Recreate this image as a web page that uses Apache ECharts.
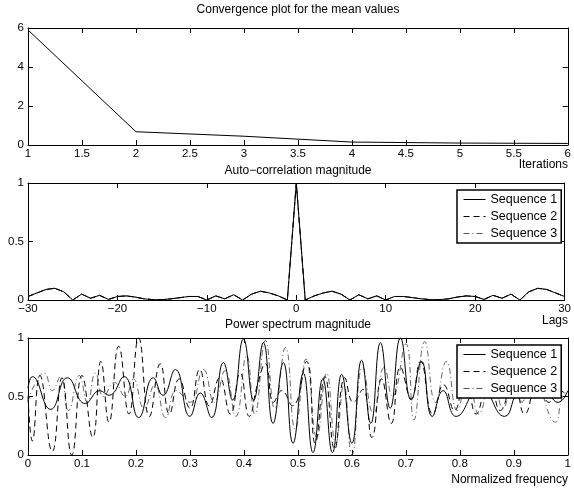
<!DOCTYPE html>
<html>
<head>
<meta charset="utf-8">
<script src="https://cdn.jsdelivr.net/npm/echarts@6/dist/echarts.min.js"></script>
<style>html,body{margin:0;padding:0;background:#fff}#c{width:574px;height:492px}</style>
</head>
<body>
<div id="c"></div>
<script>
// ---------- DATA ----------
const iterations = [1, 2, 3, 4, 5, 6];
const meanValues = [5.9, 0.68, 0.45, 0.15, 0.1, 0.08];

const lags = [-30,-29,-28,-27,-26,-25,-24,-23,-22,-21,-20,-19,-18,-17,-16,-15,-14,-13,-12,-11,-10,-9,-8,-7,-6,-5,-4,-3,-2,-1,0,1,2,3,4,5,6,7,8,9,10,11,12,13,14,15,16,17,18,19,20,21,22,23,24,25,26,27,28,29,30];
const acf1 = [0.03,0.06,0.09,0.1,0.07,0,0.05,0.015,0.04,0.005,0.03,0.035,0.025,0.01,0.003,0.003,0.01,0.02,0.03,0.03,0,0.035,0.01,0.045,0,0.05,0.075,0.06,0.035,0,1,0,0.035,0.06,0.075,0.05,0,0.045,0.01,0.035,0,0.03,0.03,0.02,0.01,0.003,0.003,0.01,0.025,0.035,0.03,0.005,0.04,0.015,0.05,0,0.07,0.1,0.09,0.06,0.03];
const acf2 = [0.03,0.06,0.09,0.1,0.07,0,0.05,0.015,0.04,0.005,0.03,0.035,0.025,0.01,0.003,0.003,0.01,0.02,0.03,0.03,0,0.035,0.01,0.045,0,0.05,0.075,0.06,0.035,0,1,0,0.035,0.06,0.075,0.05,0,0.045,0.01,0.035,0,0.03,0.03,0.02,0.01,0.003,0.003,0.01,0.025,0.035,0.03,0.005,0.04,0.015,0.05,0,0.07,0.1,0.09,0.06,0.03];
const acf3 = [0.03,0.06,0.09,0.1,0.07,0,0.05,0.015,0.04,0.005,0.03,0.035,0.025,0.01,0.003,0.003,0.01,0.02,0.03,0.03,0,0.035,0.01,0.045,0,0.05,0.075,0.06,0.035,0,1,0,0.035,0.06,0.075,0.05,0,0.045,0.01,0.035,0,0.03,0.03,0.02,0.01,0.003,0.003,0.01,0.025,0.035,0.03,0.005,0.04,0.015,0.05,0,0.07,0.1,0.09,0.06,0.03];

const freq1 = [0,0.008,0.042,0.073,0.106,0.133,0.15,0.178,0.205,0.232,0.25,0.273,0.3,0.319,0.34,0.362,0.379,0.399,0.418,0.436,0.454,0.473,0.491,0.51,0.528,0.546,0.564,0.581,0.6,0.618,0.635,0.653,0.671,0.69,0.71,0.729,0.749,0.769,0.793,0.838,0.883,0.911,0.933,0.954,0.982,1.0];
const power1 = [0.57,0.67,0.39,0.66,0.44,0.55,0.51,0.67,0.32,0.66,0.51,0.73,0.33,0.53,0.32,0.79,0.47,0.99,0.47,0.96,0.27,0.79,0.1,0.7,0.02,0.65,0.02,0.69,0.1,0.81,0.27,0.96,0.4,1.0,0.47,0.8,0.33,0.55,0.33,0.58,0.33,0.53,0.49,0.56,0.45,0.55];

const freq2 = [0,0.008,0.022,0.045,0.063,0.081,0.1,0.12,0.135,0.15,0.168,0.187,0.205,0.225,0.245,0.262,0.28,0.3,0.318,0.336,0.355,0.375,0.393,0.41,0.425,0.44,0.455,0.47,0.49,0.516,0.532,0.55,0.568,0.587,0.603,0.62,0.637,0.655,0.673,0.69,0.71,0.727,0.75,0.77,0.79,0.81,0.83,0.855,0.875,0.9,0.92,0.945,0.965,0.985,1.0];
const power2 = [0.5,0.12,0.68,0.03,0.66,0.0,0.68,0.15,0.8,0.28,0.93,0.35,1.0,0.33,0.78,0.35,0.65,0.4,0.73,0.42,0.66,0.35,0.7,0.33,0.6,0.78,0.45,0.55,0.42,0.8,0.1,0.67,0.05,0.66,0.45,0.56,0.15,0.65,0.27,0.75,0.48,0.8,0.35,0.6,0.38,0.7,0.35,0.72,0.38,0.62,0.35,0.65,0.45,0.55,0.5];

const freq3 = [0,0.012,0.03,0.045,0.06,0.075,0.095,0.11,0.125,0.14,0.16,0.18,0.195,0.215,0.235,0.255,0.275,0.3,0.325,0.345,0.365,0.385,0.405,0.42,0.44,0.457,0.477,0.495,0.515,0.535,0.553,0.57,0.585,0.6,0.62,0.64,0.66,0.675,0.7,0.715,0.735,0.755,0.775,0.795,0.815,0.835,0.86,0.88,0.9,0.915,0.935,0.955,0.977,0.99,1.0];
const power3 = [0.45,0.6,0.7,0.55,0.67,0.38,0.68,0.45,0.7,0.5,0.62,0.5,0.65,0.4,0.6,0.32,0.55,0.45,0.73,0.45,0.72,0.33,0.85,0.35,0.98,0.4,0.92,0.22,0.82,0.15,0.7,0.1,0.6,0.0,0.75,0.35,0.75,0.5,0.95,0.3,0.97,0.45,0.8,0.38,0.68,0.35,0.7,0.4,0.65,0.45,0.95,0.5,0.28,0.5,0.55];

const seqNames = ['Sequence 1', 'Sequence 2', 'Sequence 3'];

// ---------- LAYOUT ----------
const FONT = 'Liberation Sans, Arial, Helvetica, sans-serif';
const grids = [
  {left: 28, right: 6, top: 28, height: 117},
  {left: 28, right: 6, top: 183, height: 117},
  {left: 28, right: 6, top: 338, height: 117}
];
function axisBase() {
  return {
    axisLine: {show: true, onZero: false, lineStyle: {color: '#000', width: 1}},
    axisTick: {show: true, inside: true, length: 5, lineStyle: {color: '#000', width: 1}},
    splitLine: {show: false}
  };
}
function xAxes(gi, min, max, interval, fmt) {
  return [
    Object.assign(axisBase(), {
      type: 'value', gridIndex: gi, position: 'bottom', min, max, interval,
      axisLabel: {show: true, color: '#000', fontSize: 11.5, fontFamily: FONT, margin: 3,
        showMinLabel: true, showMaxLabel: true, formatter: fmt}
    }),
    Object.assign(axisBase(), {
      type: 'value', gridIndex: gi, position: 'top', min, max, interval,
      axisLabel: {show: false}
    })
  ];
}
function yAxes(gi, min, max, interval) {
  return [
    Object.assign(axisBase(), {
      type: 'value', gridIndex: gi, position: 'left', min, max, interval,
      axisLabel: {show: true, color: '#000', fontSize: 11.5, fontFamily: FONT, margin: 4,
        showMinLabel: true, showMaxLabel: true}
    }),
    Object.assign(axisBase(), {
      type: 'value', gridIndex: gi, position: 'right', min, max, interval,
      axisLabel: {show: false}
    })
  ];
}
const minusFmt = v => String(v).replace('-', '\u2212');

const xAxis = [].concat(
  xAxes(0, 1, 6, 0.5, v => String(v)),
  xAxes(1, -30, 30, 10, minusFmt),
  xAxes(2, 0, 1, 0.1, v => String(Math.round(v * 10) / 10))
);
const yAxis = [].concat(
  yAxes(0, 0, 6, 2),
  yAxes(1, 0, 1, 0.5),
  yAxes(2, 0, 1, 0.5)
);

function pairs(xs, ys) { return xs.map((x, i) => [x, ys[i]]); }

const styles = [
  {color: '#000', width: 1, type: 'solid'},
  {color: '#000', width: 1, type: [6, 4]},
  {color: '#555', width: 0.9, type: [6, 3, 1, 3]}
];

const series = [];
series.push({
  name: 'Mean', type: 'line', xAxisIndex: 0, yAxisIndex: 0,
  data: pairs(iterations, meanValues), showSymbol: false, symbol: 'none',
  lineStyle: {color: '#000', width: 1}, silent: true
});
const acfs = [acf1, acf2, acf3];
for (let i = 2; i >= 0; i--) {
  series.push({
    name: seqNames[i], type: 'line', xAxisIndex: 2, yAxisIndex: 2,
    data: pairs(lags, acfs[i]), symbol: 'none', showSymbol: false,
    lineStyle: styles[i], itemStyle: {color: styles[i].color}, z: 3 + (2 - i)
  });
}
const fs = [freq1, freq2, freq3], ps = [power1, power2, power3];
for (let i = 2; i >= 0; i--) {
  series.push({
    name: seqNames[i], type: 'line', xAxisIndex: 4, yAxisIndex: 4,
    data: pairs(fs[i], ps[i]), symbol: 'none', showSymbol: false, smooth: 0.5,
    lineStyle: styles[i], itemStyle: {color: styles[i].color}, z: 3 + (2 - i)
  });
}

function legend(top) {
  return {
    left: 457, top, orient: 'vertical', data: seqNames,
    itemWidth: 22, itemHeight: 11, itemGap: 4,
    padding: [3, 4, 3, 6], backgroundColor: '#fff',
    borderColor: '#000', borderWidth: 1.5, borderRadius: 0,
    itemStyle: {color: 'rgba(0,0,0,0)', borderWidth: 0, opacity: 0},
    lineStyle: {width: 1},
    textStyle: {color: '#000', fontSize: 12.5, fontFamily: FONT},
    selectedMode: false, z: 10
  };
}

const tStyle = {color: '#000', fontSize: 12, fontWeight: 'normal', fontFamily: FONT};
function ttl(text, left, top, align) {
  return {text, left, top, textAlign: align, padding: 0, textStyle: tStyle};
}

const option = {
  animation: false,
  backgroundColor: '#fff',
  title: [
    ttl('Convergence plot for the mean values', 298, 4, 'center'),
    ttl('Iterations', 568, 159, 'right'),
    ttl('Auto\u2212correlation magnitude', 298, 165, 'center'),
    ttl('Lags', 568, 315, 'right'),
    ttl('Power spectrum magnitude', 298, 319, 'center'),
    ttl('Normalized frequency', 568, 474, 'right')
  ],
  grid: grids,
  xAxis, yAxis,
  legend: [legend(190), legend(345)],
  series
};

const chart = echarts.init(document.getElementById('c'), null, {renderer: 'canvas'});
chart.setOption(option);
</script>
</body>
</html>
